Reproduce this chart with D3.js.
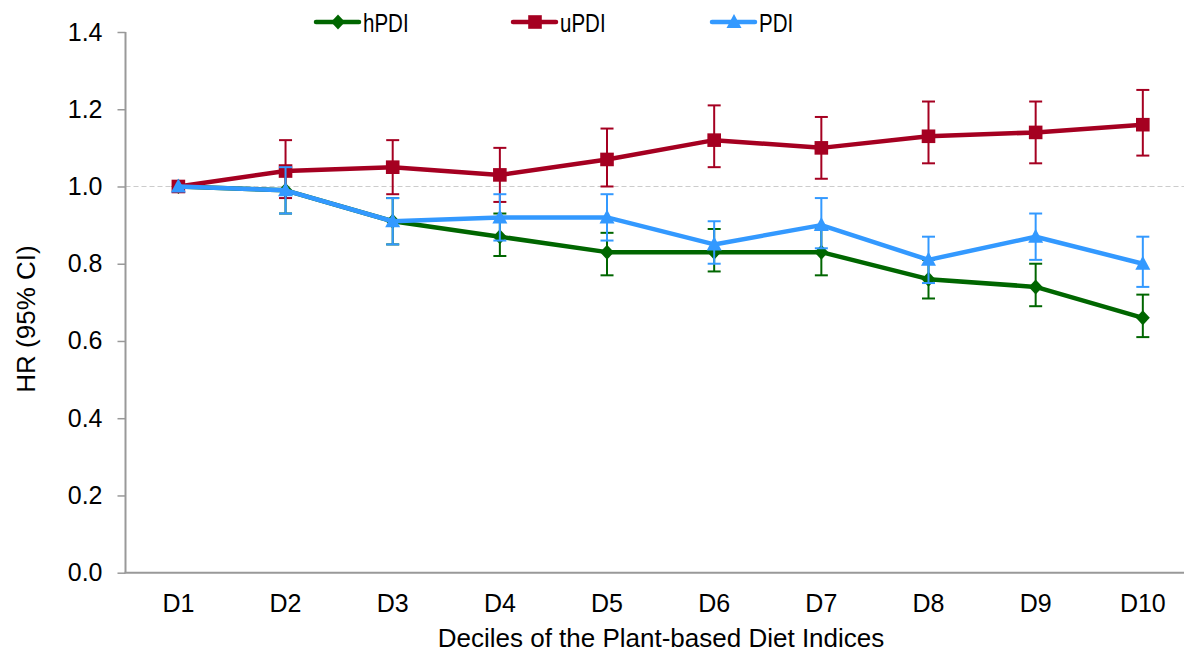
<!DOCTYPE html>
<html><head><meta charset="utf-8">
<script src="https://cdn.jsdelivr.net/npm/d3@7"></script>
<style>
body{margin:0;background:#fff;}
text{font-family:"Liberation Sans",Arial,sans-serif;}
</style></head>
<body><svg id="c" width="1184" height="654"></svg>
<script>
const categories = ["D1","D2","D3","D4","D5","D6","D7","D8","D9","D10"];
const yTicks = [0,0.2,0.4,0.6,0.8,1.0,1.2,1.4];

const hPDI     = [1.00,0.99,0.91,0.87,0.83,0.83,0.83,0.76,0.74,0.66];
const hPDI_lo  = [1.00,0.93,0.85,0.82,0.77,0.78,0.77,0.71,0.69,0.61];
const hPDI_hi  = [1.00,1.05,0.97,0.93,0.88,0.89,0.89,0.81,0.80,0.72];

const uPDI     = [1.00,1.04,1.05,1.03,1.07,1.12,1.10,1.13,1.14,1.16];
const uPDI_lo  = [1.00,0.97,0.98,0.96,1.00,1.05,1.02,1.06,1.06,1.08];
const uPDI_hi  = [1.00,1.12,1.12,1.10,1.15,1.21,1.18,1.22,1.22,1.25];

const PDI      = [1.00,0.99,0.91,0.92,0.92,0.85,0.90,0.81,0.87,0.80];
const PDI_lo   = [1.00,0.93,0.85,0.86,0.86,0.80,0.84,0.75,0.81,0.74];
const PDI_hi   = [1.00,1.05,0.97,0.98,0.98,0.91,0.97,0.87,0.93,0.87];

const seriesNames = ["hPDI","uPDI","PDI"];
const series = [
  {name:seriesNames[0], v:hPDI, lo:hPDI_lo, hi:hPDI_hi, color:"#006600", marker:"diamond"},
  {name:seriesNames[1], v:uPDI, lo:uPDI_lo, hi:uPDI_hi, color:"#a50021", marker:"square"},
  {name:seriesNames[2], v:PDI,  lo:PDI_lo,  hi:PDI_hi,  color:"#3399ff", marker:"triangle"}
];

const svg = d3.select("#c");
const x = d3.scaleBand().domain(categories).range([124.8,1196.4]);
const y = d3.scaleLinear().domain([0,1.4]).range([572.7,32]);
const cx = d => x(d)+x.bandwidth()/2;
const axisColor = "#999999";
const FF = "Liberation Sans, Arial, sans-serif";

// reference line at 1.0
svg.append("line").attr("x1",125.5).attr("x2",1184).attr("y1",y(1)).attr("y2",y(1))
  .attr("stroke","#cccccc").attr("stroke-width",1.2).attr("stroke-dasharray","5,3");

// y axis
const ya = svg.append("g").attr("transform","translate(125.5,0)")
  .call(d3.axisLeft(y).tickValues(yTicks).tickFormat(d3.format(".1f")).tickSize(8).tickPadding(15));
ya.select(".domain").attr("stroke",axisColor).attr("stroke-width",2).attr("d",`M0,${y(1.4)}V${y(0)}`);
ya.selectAll(".tick line").attr("stroke",axisColor).attr("stroke-width",1.5);
ya.selectAll(".tick text").attr("font-size",25).attr("fill","#000").attr("font-family",FF);

// x axis
const xa = svg.append("g").attr("transform",`translate(0,${y(0)})`)
  .call(d3.axisBottom(x).tickSize(0).tickPadding(22));
xa.select(".domain").attr("stroke",axisColor).attr("stroke-width",2).attr("d",`M124.5,0H1184`);
xa.selectAll(".tick text").attr("font-size",25).attr("fill","#000").attr("font-family",FF);

// axis titles
svg.append("text").attr("x",661).attr("y",647).attr("text-anchor","middle")
  .attr("font-size",26).text("Deciles of the Plant-based Diet Indices");
svg.append("text").attr("transform","translate(35,319) rotate(-90)").attr("text-anchor","middle")
  .attr("font-size",26).text("HR (95% CI)");

function markerPath(type){
  if(type==="diamond") return "M0,-7.5L7,0L0,7.5L-7,0Z";
  if(type==="square") return "M-6.8,-6.8H6.8V6.8H-6.8Z";
  return "M0,-8L7.5,6L-7.5,6Z";
}

const line = d3.line().x(d=>cx(d[0])).y(d=>y(d[1]));

series.forEach(s=>{
  const g = svg.append("g");
  categories.forEach((c,i)=>{
    if(i===0) return;
    const X = cx(c);
    g.append("line").attr("x1",X).attr("x2",X).attr("y1",y(s.lo[i])).attr("y2",y(s.hi[i]))
      .attr("stroke",s.color).attr("stroke-width",2);
    [s.lo[i],s.hi[i]].forEach(v=>{
      g.append("line").attr("x1",X-6.5).attr("x2",X+6.5).attr("y1",y(v)).attr("y2",y(v))
        .attr("stroke",s.color).attr("stroke-width",2);
    });
  });
  g.append("path").datum(categories.map((c,i)=>[c,s.v[i]])).attr("d",line)
    .attr("fill","none").attr("stroke",s.color).attr("stroke-width",4.5).attr("stroke-linejoin","round");
  categories.forEach((c,i)=>{
    g.append("path").attr("d",markerPath(s.marker))
      .attr("transform",`translate(${cx(c)},${y(s.v[i])})`).attr("fill",s.color);
  });
});

// legend
const legX = [316,513,712];
series.forEach((s,i)=>{
  const g = svg.append("g").attr("transform",`translate(${legX[i]},22)`);
  g.append("line").attr("x1",0).attr("x2",43).attr("stroke",s.color).attr("stroke-width",4.5).attr("stroke-linecap","round");
  g.append("path").attr("d",markerPath(s.marker)).attr("transform","translate(22,0)").attr("fill",s.color);
  g.append("text").attr("transform","translate(47,10) scale(0.82,1)").attr("font-size",25).text(s.name);
});
</script></body></html>
